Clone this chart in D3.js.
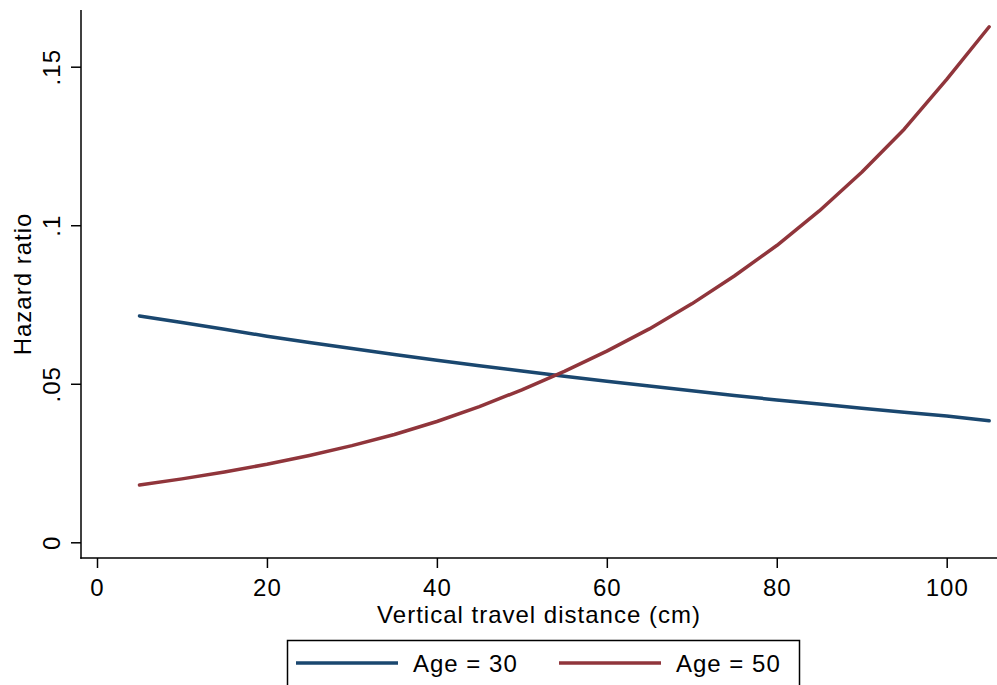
<!DOCTYPE html>
<html>
<head>
<meta charset="utf-8">
<script src="https://cdn.jsdelivr.net/npm/d3@7"></script>
<style>
  body { margin: 0; background: #fff; }
  svg { display: block; font-family: "Liberation Sans", Arial, sans-serif; }
  .tick text { font-size: 24px; fill: #000; letter-spacing: 1px; }
</style>
</head>
<body>
<svg id="chart" width="997" height="685"></svg>
<script>
// distance (cm) and hazard ratio
const distance = [5, 10, 15, 20, 25, 30, 35, 40, 45, 50, 55, 60, 65, 70, 75, 80, 85, 90, 95, 100, 105];
const age30 = [0.0714, 0.0693, 0.0672, 0.0650, 0.0630, 0.0611, 0.0592, 0.0574, 0.0557, 0.0540, 0.0524,
  0.0508, 0.0493, 0.0478, 0.0463, 0.0449, 0.0436, 0.0423, 0.0410, 0.0398, 0.0383];
const age50 = [0.0181, 0.0200, 0.0222, 0.0246, 0.0274, 0.0305, 0.0340, 0.0381, 0.0428, 0.0481, 0.0539,
  0.0603, 0.0673, 0.0752, 0.0840, 0.0936, 0.1045, 0.1167, 0.1303, 0.1460, 0.1626];
const xTicks = [0, 20, 40, 60, 80, 100];
const yTicks = [0, 0.05, 0.1, 0.15];
const seriesNames = ['Age = 30', 'Age = 50'];
const seriesColours = ['#1a476f', '#90353b'];

const svg = d3.select('#chart');

const plotLeft = 81, plotRight = 997, plotTop = 10, plotBottom = 558;

const x = d3.scaleLinear().domain([0, 100]).range([97, 946.7]);
const y = d3.scaleLinear().domain([0, 0.15]).range([542.3, 66.7]);

const fmt = d => d === 0 ? '0' : String(d).replace(/^0/, '');

// axes
const yAxis = svg.append('g')
  .attr('transform', 'translate(' + plotLeft + ',0)')
  .call(d3.axisLeft(y).tickValues(yTicks).tickFormat(fmt).tickSize(10));
yAxis.select('.domain').remove();
yAxis.selectAll('.tick line').attr('stroke', '#000').attr('stroke-width', 1.5);
yAxis.selectAll('.tick text')
  .attr('x', null).attr('dy', null)
  .attr('text-anchor', 'middle')
  .attr('transform', 'translate(-21,0) rotate(-90)');

const xAxis = svg.append('g')
  .attr('transform', 'translate(0,' + plotBottom + ')')
  .call(d3.axisBottom(x).tickValues(xTicks).tickFormat(d3.format('d')).tickSize(10));
xAxis.select('.domain').remove();
xAxis.selectAll('.tick line').attr('stroke', '#000').attr('stroke-width', 1.5);
xAxis.selectAll('.tick text').attr('y', null).attr('dy', null)
  .attr('transform', 'translate(0,38)');

svg.append('line')
  .attr('x1', plotLeft).attr('x2', plotLeft)
  .attr('y1', plotTop).attr('y2', plotBottom + 0.75)
  .attr('stroke', '#000').attr('stroke-width', 1.5);
svg.append('line')
  .attr('x1', plotLeft - 0.75).attr('x2', plotRight)
  .attr('y1', plotBottom).attr('y2', plotBottom)
  .attr('stroke', '#000').attr('stroke-width', 1.5);

// titles
svg.append('text')
  .attr('x', (plotLeft + plotRight) / 2).attr('y', 623)
  .attr('text-anchor', 'middle')
  .style('font-size', '24px').style('letter-spacing', '1px')
  .text('Vertical travel distance (cm)');

svg.append('text')
  .attr('transform', 'translate(31,' + (plotTop + plotBottom) / 2 + ') rotate(-90)')
  .attr('text-anchor', 'middle')
  .style('font-size', '24px').style('letter-spacing', '1px')
  .text('Hazard ratio');

// lines
const line = d3.line()
  .x((d, i) => x(distance[i]))
  .y(d => y(d));

[age30, age50].forEach((vals, i) => {
  svg.append('path')
    .datum(vals)
    .attr('d', line)
    .attr('fill', 'none')
    .attr('stroke', seriesColours[i])
    .attr('stroke-width', 3.5)
    .attr('stroke-linejoin', 'round')
    .attr('stroke-linecap', 'round');
});

// legend
const legend = svg.append('g');
legend.append('rect')
  .attr('x', 287.5).attr('y', 640.5)
  .attr('width', 512).attr('height', 70)
  .attr('fill', '#fff').attr('stroke', '#000').attr('stroke-width', 1.5);

const legendX = [296, 559];
seriesNames.forEach((name, i) => {
  legend.append('line')
    .attr('x1', legendX[i]).attr('x2', legendX[i] + 102)
    .attr('y1', 663).attr('y2', 663)
    .attr('stroke', seriesColours[i]).attr('stroke-width', 3.5);
  legend.append('text')
    .attr('x', legendX[i] + 117).attr('y', 672)
    .style('font-size', '24px').style('letter-spacing', '1px')
    .text(name);
});
</script>
</body>
</html>
